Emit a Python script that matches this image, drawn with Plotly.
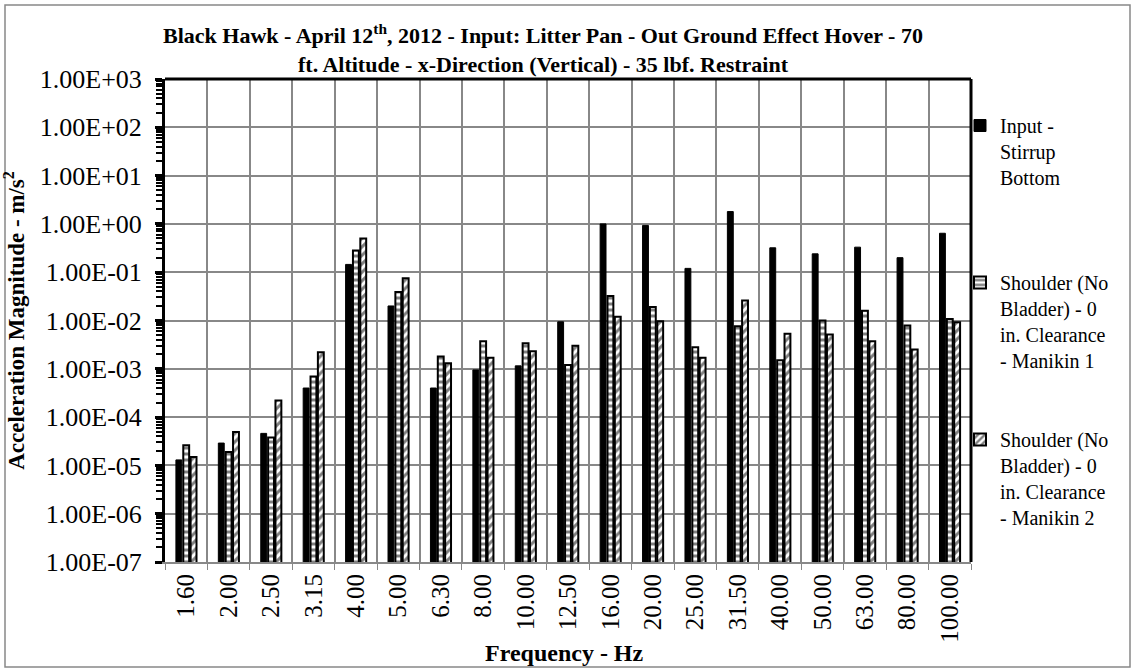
import plotly.graph_objects as go

# Frequency bands (Hz) shown as categories
freq_labels = ["1.60", "2.00", "2.50", "3.15", "4.00", "5.00", "6.30", "8.00", "10.00",
               "12.50", "16.00", "20.00", "25.00", "31.50", "40.00", "50.00", "63.00",
               "80.00", "100.00"]

# Acceleration magnitude (m/s^2) per band
input_stirrup = [1.3e-5, 2.9e-5, 4.6e-5, 4.0e-4, 1.45e-1, 2.0e-2, 4.0e-4, 9.5e-4, 1.15e-3,
                 9.4e-3, 1.0e0, 0.93e0, 1.2e-1, 1.8e0, 3.2e-1, 2.4e-1, 3.3e-1, 2.0e-1, 6.4e-1]
manikin1 = [2.6e-5, 1.9e-5, 3.8e-5, 6.9e-4, 2.8e-1, 3.9e-2, 1.8e-3, 3.7e-3, 3.4e-3,
            1.2e-3, 3.2e-2, 1.9e-2, 2.8e-3, 7.6e-3, 1.5e-3, 1.0e-2, 1.6e-2, 7.9e-3, 1.07e-2]
manikin2 = [1.5e-5, 4.9e-5, 2.2e-4, 2.2e-3, 5.0e-1, 7.5e-2, 1.3e-3, 1.7e-3, 2.3e-3,
            3.0e-3, 1.2e-2, 9.6e-3, 1.7e-3, 2.6e-2, 5.3e-3, 5.1e-3, 3.7e-3, 2.5e-3, 9.2e-3]

# Decade tick labels in scientific notation
y_tickvals = [1e3, 1e2, 1e1, 1e0, 1e-1, 1e-2, 1e-3, 1e-4, 1e-5, 1e-6, 1e-7]
y_ticktext = ["1.00E+03", "1.00E+02", "1.00E+01", "1.00E+00", "1.00E-01", "1.00E-02",
              "1.00E-03", "1.00E-04", "1.00E-05", "1.00E-06", "1.00E-07"]

SERIF = "Liberation Serif"
W, H = 1132, 669
ML, MR, MT, MB = 165, 161, 79, 107
PW, PH = W - ML - MR, H - MT - MB

fig = go.Figure()

fig.add_trace(go.Bar(
    x=freq_labels, y=input_stirrup, name="Input -<br>Stirrup<br>Bottom<br> ",
    legendgroup="a",
    marker=dict(color="black", line=dict(color="black", width=1)),
))
fig.add_trace(go.Bar(
    x=freq_labels, y=manikin1,
    name="Shoulder (No<br>Bladder) - 0<br>in. Clearance<br>- Manikin 1",
    legendgroup="b",
    marker=dict(color="white", line=dict(color="black", width=2),
                pattern=dict(shape="-", fgcolor="black", bgcolor="white", size=6, solidity=0.5)),
))
fig.add_trace(go.Bar(
    x=freq_labels, y=manikin2,
    name="Shoulder (No<br>Bladder) - 0<br>in. Clearance<br>- Manikin 2",
    legendgroup="c",
    marker=dict(color="white", line=dict(color="black", width=2),
                pattern=dict(shape="/", fgcolor="black", bgcolor="white", size=6, solidity=0.5)),
))

fig.update_layout(
    width=W, height=H,
    margin=dict(l=ML, r=MR, t=MT, b=MB, autoexpand=False),
    paper_bgcolor="white", plot_bgcolor="white",
    font=dict(family=SERIF, color="black", size=22),
    barmode="group", bargap=0.48, bargroupgap=0.2,
    title=dict(
        text="<b>Black Hawk - April 12<sup>th</sup>, 2012 - Input: Litter Pan - Out Ground Effect Hover - 70<br>"
             "ft. Altitude - x-Direction (Vertical) - 35 lbf. Restraint</b>",
        x=543 / W, xref="container", xanchor="center",
        y=1 - 43 / H, yref="container", yanchor="top",
        font=dict(family=SERIF, size=22, color="black"),
    ),
    legend=dict(
        x=(960 - ML) / PW, xanchor="left", y=1 - (106 - MT) / PH, yanchor="top",
        bgcolor="rgba(0,0,0,0)", font=dict(family=SERIF, size=20, color="black"),
        valign="top", tracegroupgap=50, traceorder="grouped",
    ),
    showlegend=True,
    # overlay axes carry the extra tick marks: inside half of the y ticks, mid-category x ticks
    yaxis2=dict(overlaying="y", side="left", type="log", range=[-7, 3],
                tickvals=y_tickvals, showticklabels=False, showgrid=False,
                ticks="inside", ticklen=6, tickwidth=3, tickcolor="black",
                minor=dict(ticks="inside", ticklen=5, tickwidth=2, tickcolor="black", dtick="D1", showgrid=False),
                showline=False, zeroline=False, automargin=False),
    xaxis2=dict(overlaying="x", type="category", categoryorder="array", categoryarray=freq_labels,
                range=[-0.5, len(freq_labels) - 0.5], side="bottom",
                showticklabels=False, showgrid=False, ticks="outside", ticklen=6,
                tickcolor="#888888", tickwidth=1, showline=False, zeroline=False, automargin=False),
)

fig.update_layout(xaxis=dict(
    type="category", categoryorder="array", categoryarray=freq_labels,
    tickson="boundaries", showgrid=True, gridcolor="#888888", gridwidth=2,
    ticks="outside", ticklen=6, tickcolor="#888888", tickwidth=1,
    showline=True, linecolor="#888888", linewidth=2, automargin=False,
    tickangle=-90, tickfont=dict(family=SERIF, size=25, color="black"),
))
fig.update_layout(yaxis=dict(
    type="log", range=[-7, 3],
    tickvals=y_tickvals, ticktext=y_ticktext,
    showgrid=True, gridcolor="#888888", gridwidth=2,
    ticks="outside", ticklen=7, tickwidth=3, tickcolor="black",
    minor=dict(ticks="outside", ticklen=6, tickwidth=2, tickcolor="black", dtick="D1", showgrid=False),
    showline=True, linecolor="black", linewidth=3, automargin=False,
    ticklabelstandoff=8,
    tickfont=dict(family=SERIF, size=26, color="black"),
    title=dict(text="<b>Acceleration Magnitude - m/s<sup>2</sup></b>",
               font=dict(family=SERIF, size=23, color="black")),
))

# x-axis title placed below the rotated frequency labels
fig.add_annotation(text="<b>Frequency - Hz</b>", xref="paper", yref="paper",
                   x=(564 - ML) / PW, y=-(653 - (MT + PH)) / PH, xanchor="center", yanchor="middle",
                   showarrow=False, font=dict(family=SERIF, size=24, color="black"))

# Black frame along the top and right edges of the plot area, gray outer chart border
fig.add_shape(type="line", xref="paper", yref="paper", x0=0, x1=1, y0=1, y1=1,
              line=dict(color="black", width=3), layer="above")
fig.add_shape(type="line", xref="paper", yref="paper", x0=1, x1=1, y0=0, y1=1,
              line=dict(color="black", width=3), layer="above")
fig.add_shape(type="rect", xref="paper", yref="paper",
              x0=(5 - ML) / PW, x1=(W - 2 - ML) / PW,
              y0=-(H - 2 - MT - PH) / PH, y1=1 + (MT - 5) / PH,
              line=dict(color="#888888", width=1.5), fillcolor="rgba(0,0,0,0)", layer="below")

fig.write_html("out.html")
